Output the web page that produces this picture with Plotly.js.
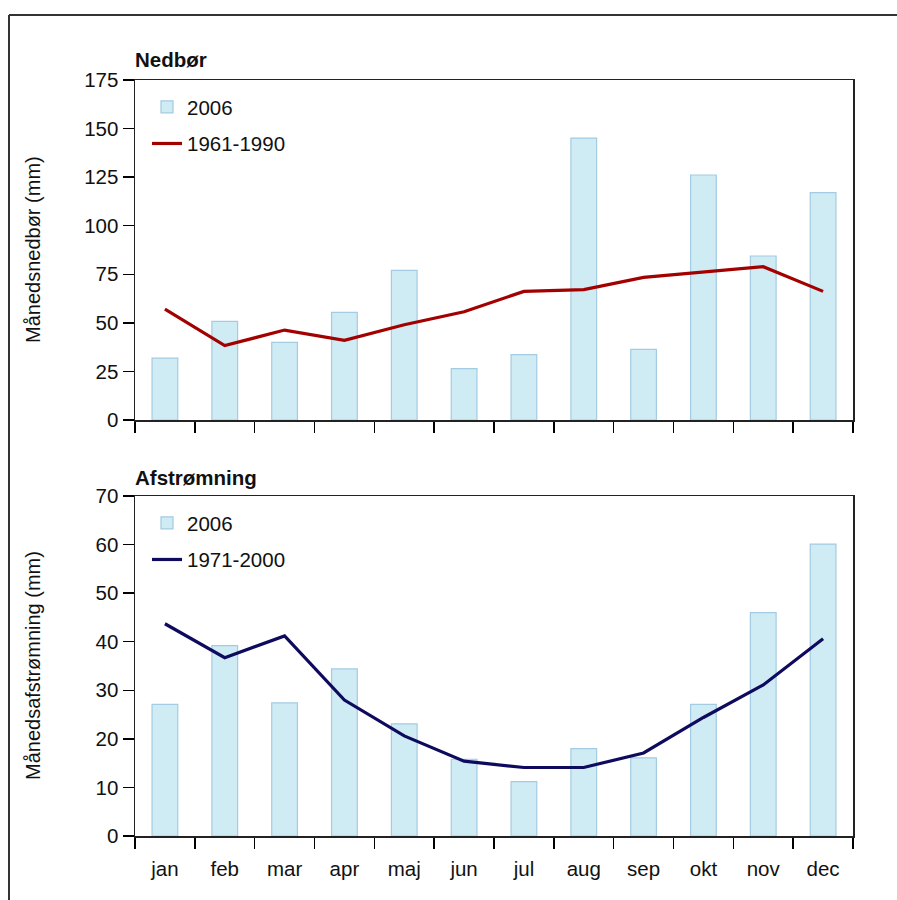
<!DOCTYPE html>
<html>
<head>
<meta charset="utf-8">
<script src="https://cdn.plot.ly/plotly-3.0.1.min.js"></script>
<style>
html,body{margin:0;padding:0;background:#fff;}
#chart{width:897px;height:900px;}
</style>
</head>
<body>
<div id="chart"></div>
<script>
const months = ['jan','feb','mar','apr','maj','jun','jul','aug','sep','okt','nov','dec'];
const nedbor2006 = [31.8, 50.8, 40.0, 55.4, 77.0, 26.4, 33.6, 145.1, 36.4, 126.1, 84.4, 117.0];
const nedbor6190 = [57.1, 38.3, 46.3, 41.0, 49.0, 55.7, 66.2, 67.1, 73.4, 76.2, 78.9, 66.2];
const afstr2006 = [27.1, 39.2, 27.4, 34.4, 23.1, 15.8, 11.2, 18.0, 16.1, 27.1, 46.0, 60.1];
const afstr7100 = [43.7, 36.7, 41.2, 28.0, 20.6, 15.4, 14.1, 14.1, 17.1, 24.4, 31.1, 40.6];

const W = 897, H = 900;
const px = x => x / W;
const py = y => 1 - y / H;
const FONT = 'Liberation Sans, Arial, Helvetica, sans-serif';

const barStyle = {color: '#cfebf4', line: {color: '#a3cbe2', width: 1.2}};

const traces = [
  {type:'bar', x: months, y: nedbor2006, name:'2006', width:0.43, marker: barStyle,
   xaxis:'x', yaxis:'y', legend:'legend', legendgroup:'a'},
  {type:'scatter', mode:'lines', x: months, y: nedbor6190, name:'1961-1990',
   line:{color:'#a30000', width:3.2}, xaxis:'x', yaxis:'y', legend:'legend', legendgroup:'b'},
  {type:'bar', x: months, y: afstr2006, name:'2006', width:0.43, marker: barStyle,
   xaxis:'x2', yaxis:'y2', legend:'legend2', legendgroup:'c'},
  {type:'scatter', mode:'lines', x: months, y: afstr7100, name:'1971-2000',
   line:{color:'#0e0b5e', width:3.2}, xaxis:'x2', yaxis:'y2', legend:'legend2', legendgroup:'d'}
];

const xBase = {
  type:'category', domain:[px(135), px(853)], tickson:'boundaries',
  ticks:'outside', ticklen:11, tickwidth:1.5, tickcolor:'#000',
  showline:true, linecolor:'#222', linewidth:1.5, mirror:true,
  showgrid:false, zeroline:false, fixedrange:true,
  tickfont:{family:FONT, size:20.5, color:'#111'}
};
const yBase = {
  ticks:'outside', ticklen:11, tickwidth:1.5, tickcolor:'#000',
  showline:true, linecolor:'#222', linewidth:1.5, mirror:true,
  showgrid:false, zeroline:false, fixedrange:true,
  tickfont:{family:FONT, size:20.5, color:'#111'}
};

const legendBase = {
  bgcolor:'rgba(0,0,0,0)', borderwidth:0, xanchor:'left', yanchor:'top',
  font:{family:FONT, size:20.5, color:'#111'}, tracegroupgap:7, traceorder:'grouped'
};

const layout = {
  width: W, height: H,
  margin:{l:0, r:0, t:0, b:0},
  paper_bgcolor:'#fff', plot_bgcolor:'#fff',
  showlegend:true,
  bargap:0.5,
  font:{family:FONT, color:'#111'},
  xaxis: Object.assign({}, xBase, {anchor:'y', showticklabels:false}),
  yaxis: Object.assign({}, yBase, {anchor:'x', domain:[py(420), py(80)], range:[0,175], dtick:25, tick0:0}),
  xaxis2: Object.assign({}, xBase, {anchor:'y2', showticklabels:true, ticklabelstandoff:14}),
  yaxis2: Object.assign({}, yBase, {anchor:'x2', domain:[py(836), py(496)], range:[0,70], dtick:10, tick0:0}),
  legend: Object.assign({}, legendBase, {x: px(147), y: py(87)}),
  legend2: Object.assign({}, legendBase, {x: px(147), y: py(503)}),
  annotations: [
    {text:'<b>Nedbør</b>', xref:'paper', yref:'paper', x:px(133), y:py(60), xanchor:'left', yanchor:'middle',
     showarrow:false, font:{family:FONT, size:20.5, color:'#111'}},
    {text:'<b>Afstrømning</b>', xref:'paper', yref:'paper', x:px(133), y:py(477), xanchor:'left', yanchor:'middle',
     showarrow:false, font:{family:FONT, size:20.5, color:'#111'}},
    {text:'Månedsnedbør (mm)', xref:'paper', yref:'paper', x:px(33), y:py(250), xanchor:'center', yanchor:'middle',
     textangle:-90, showarrow:false, font:{family:FONT, size:20, color:'#111'}},
    {text:'Månedsafstrømning (mm)', xref:'paper', yref:'paper', x:px(33), y:py(666), xanchor:'center', yanchor:'middle',
     textangle:-90, showarrow:false, font:{family:FONT, size:20, color:'#111'}}
  ],
  shapes: [
    {type:'line', xref:'paper', yref:'paper', x0:px(9), x1:1, y0:py(15), y1:py(15), line:{color:'#333', width:2}},
    {type:'line', xref:'paper', yref:'paper', x0:px(9), x1:px(9), y0:py(15), y1:0, line:{color:'#333', width:2}}
  ]
};

Plotly.newPlot('chart', traces, layout, {staticPlot:true, displayModeBar:false});
</script>
</body>
</html>
